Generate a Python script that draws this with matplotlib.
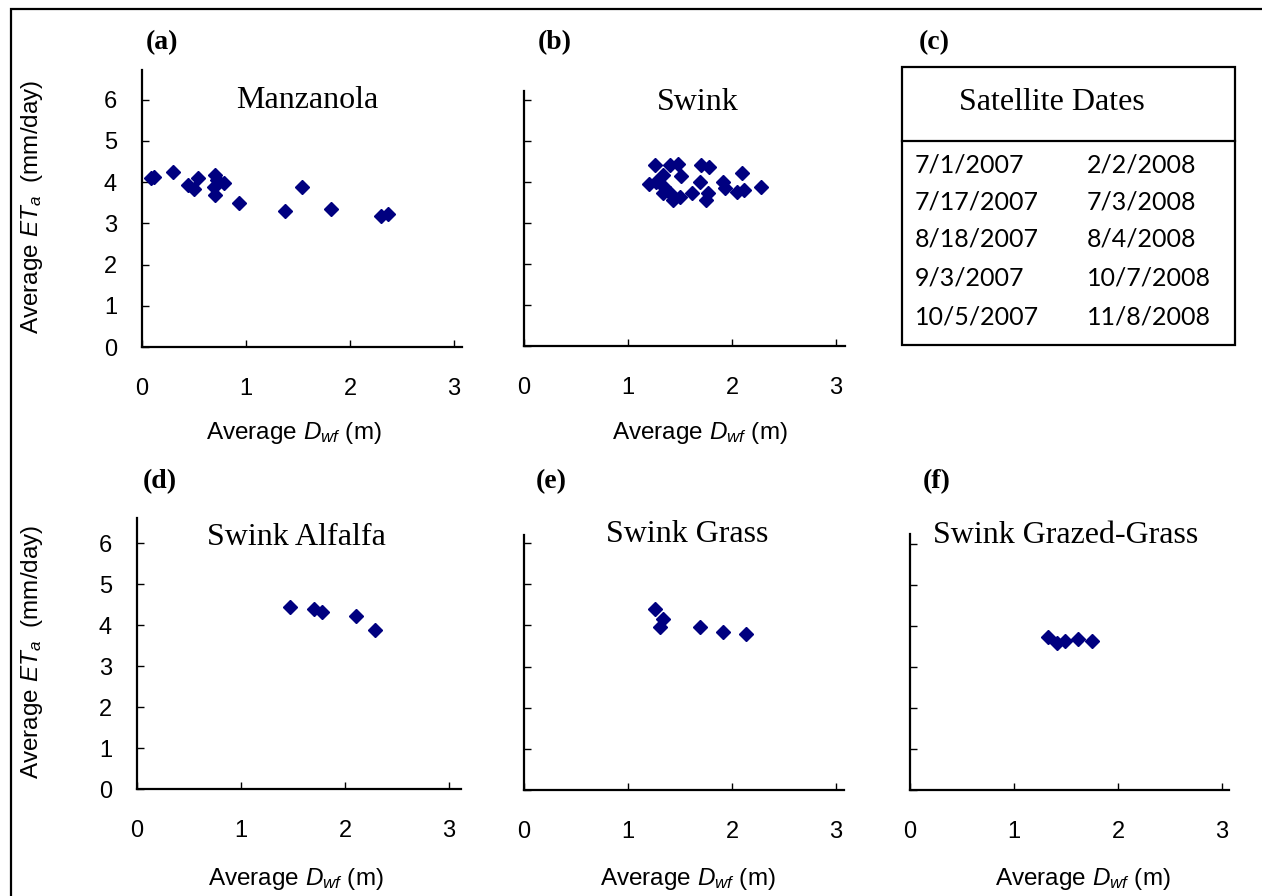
import matplotlib
matplotlib.use("Agg")
import matplotlib.pyplot as plt
from matplotlib.patches import Rectangle
from matplotlib.lines import Line2D

# Dados
manz_x = [0.09, 0.12, 0.295, 0.445, 0.50, 0.54, 0.70, 0.695, 0.70, 0.72, 0.79, 0.935, 1.375, 1.54, 1.82, 2.30, 2.37]
manz_y = [4.10, 4.12, 4.25, 3.93, 3.83, 4.09, 4.17, 3.89, 3.69, 4.05, 3.97, 3.49, 3.31, 3.88, 3.35, 3.19, 3.23]

swink_x = [1.256, 1.20, 1.40, 1.48, 1.335, 1.51, 1.35, 1.40, 1.43, 1.50, 1.335, 1.27, 1.62, 1.70, 1.78,
           1.69, 1.77, 1.75, 1.91, 1.93, 2.10, 2.05, 2.12, 2.28]
swink_y = [4.41, 3.94, 4.41, 4.44, 4.17, 4.15, 3.89, 3.72, 3.56, 3.64, 3.72, 4.00, 3.72, 4.41, 4.37,
           4.01, 3.72, 3.56, 4.01, 3.85, 4.21, 3.76, 3.80, 3.89]

alfalfa_x = [1.47, 1.70, 1.78, 2.11, 2.29]
alfalfa_y = [4.43, 4.39, 4.31, 4.22, 3.89]

grass_x = [1.257, 1.34, 1.305, 1.69, 1.91, 2.13]
grass_y = [4.40, 4.16, 3.97, 3.97, 3.84, 3.79]

grazed_x = [1.325, 1.41, 1.49, 1.62, 1.75]
grazed_y = [3.72, 3.59, 3.63, 3.69, 3.63]

dates_2007 = ["7/1/2007", "7/17/2007", "8/18/2007", "9/3/2007", "10/5/2007"]
dates_2008 = ["2/2/2008", "7/3/2008", "8/4/2008", "10/7/2008", "11/8/2008"]

plt.rcParams["mathtext.fontset"] = "custom"
plt.rcParams["mathtext.rm"] = "Liberation Sans"
plt.rcParams["mathtext.it"] = "Liberation Sans:italic"

W, H = 1262, 896
fig = plt.figure(figsize=(W / 100, H / 100), dpi=100)


def rect(l, t, r, b):
    return [l / W, 1 - b / H, (r - l) / W, (b - t) / H]


def fx(x):
    return x / W


def fy(y):
    return 1 - y / H


# moldura externa (sem lado direito / inferior visiveis)
fig.patches.append(Rectangle((fx(11), fy(905)), fx(1300) - fx(11), fy(9) - fy(905),
                             transform=fig.transFigure, fill=False, lw=1.6, ec="black"))

paineis = [
    # (pos, xs, ys, ytop, titulo, titulo_xy, letra, letra_xy, ylabels, xlabel_x)
    ((142, 70, 462, 347), manz_x, manz_y, 6.72, "Manzanola", (1.59, 5.97), "(a)", (162, 43), True, 294),
    ((524, 91, 845, 346), swink_x, swink_y, 6.22, "Swink", (1.67, 5.93), "(b)", (555, 43), False, 700),
    ((137, 518, 461, 789), alfalfa_x, alfalfa_y, 6.61, "Swink Alfalfa", (1.53, 6.13), "(d)", (160, 482), True, 296),
    ((524, 535, 844, 790), grass_x, grass_y, 6.20, "Swink Grass", (1.57, 6.20), "(e)", (551, 482), False, 688),
    ((910, 534, 1229, 790), grazed_x, grazed_y, 6.24, "Swink Grazed-Grass", (1.50, 6.20), "(f)", (937, 482), False, 1083),
]

for pos, xs, ys, ytop, titulo, txy, letra, lxy, ylabs, xlab_x in paineis:
    l, t, r, b = pos
    ax = fig.add_axes(rect(l, t, r, b))
    ax.plot(xs, ys, linestyle="none", marker="D", ms=7.5, color="#000080", mec="#000080")
    ax.set_xlim(0, (r - l) / 104.0)
    ax.set_ylim(0, ytop)
    ax.set_xticks([0, 1, 2, 3])
    ax.set_yticks([0, 1, 2, 3, 4, 5, 6])
    for s in ["top", "right"]:
        ax.spines[s].set_visible(False)
    for s in ["left", "bottom"]:
        ax.spines[s].set_linewidth(1.6)
    ax.tick_params(direction="in", length=5, width=1, labelsize=17)
    ax.tick_params(axis="x", pad=22)
    ax.tick_params(axis="y", pad=18)
    for lab in ax.get_xticklabels() + ax.get_yticklabels():
        lab.set_fontfamily("Liberation Sans")
    if not ylabs:
        ax.set_yticklabels([])
    ax.text(txy[0], txy[1], titulo, ha="center", va="center", fontsize=23, family="Liberation Serif")
    fig.text(fx(lxy[0]), fy(lxy[1]), letra, ha="center", va="center", fontsize=20,
             family="Liberation Serif", fontweight="bold")
    xl_y = 433 if b < 400 else 879
    fig.text(fx(xlab_x), fy(xl_y), r"Average $D_{wf}$ (m)", ha="center", va="center",
             fontsize=17.5, family="Liberation Sans")
    if ylabs:
        fig.text(fx(32), fy((t + b) / 2 - 2), r"Average $ET_a$  (mm/day)", ha="center", va="center",
                 rotation=90, fontsize=17.5, family="Liberation Sans")

# (c) tabela de datas
fig.text(fx(934), fy(43), "(c)", ha="center", va="center", fontsize=20,
         family="Liberation Serif", fontweight="bold")
fig.patches.append(Rectangle((fx(902), fy(345)), fx(1235) - fx(902), fy(67) - fy(345),
                             transform=fig.transFigure, fill=False, lw=1.6, ec="black"))
fig.lines.append(Line2D([fx(902), fx(1235)], [fy(141), fy(141)], transform=fig.transFigure,
                        lw=1.6, color="black"))
fig.text(fx(1052), fy(102), "Satellite Dates", ha="center", va="center", fontsize=23,
         family="Liberation Serif")
linhas_y = [165, 202, 239, 278, 317]
for d1, d2, yy in zip(dates_2007, dates_2008, linhas_y):
    fig.text(fx(915), fy(yy), d1, ha="left", va="center", fontsize=18, family="Lato")
    fig.text(fx(1087), fy(yy), d2, ha="left", va="center", fontsize=18, family="Lato")

fig.savefig("out.png", dpi=100)
